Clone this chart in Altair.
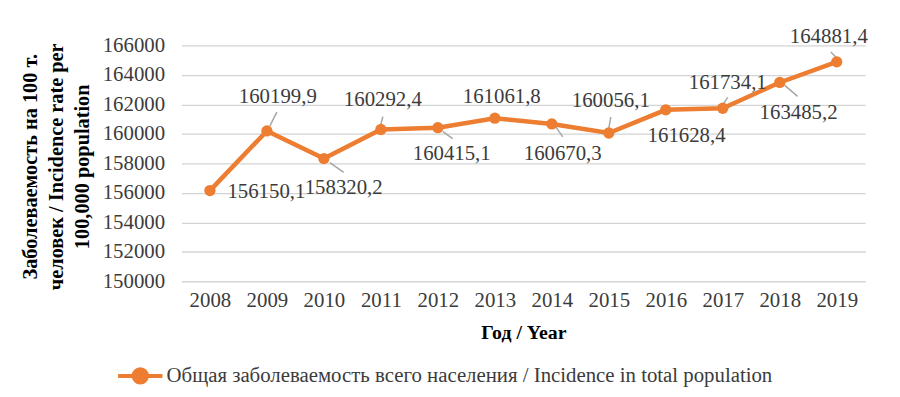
import altair as alt
import pandas as pd

# ---- data ----
years = [2008, 2009, 2010, 2011, 2012, 2013, 2014, 2015, 2016, 2017, 2018, 2019]
values = [156150.1, 160199.9, 158320.2, 160292.4, 160415.1, 161061.8,
          160670.3, 160056.1, 161628.4, 161734.1, 163485.2, 164881.4]
y_ticks = [150000, 152000, 154000, 156000, 158000, 160000, 162000, 164000, 166000]
series_name = "Общая заболеваемость всего населения / Incidence in total population"
y_title = ["Заболеваемость на 100 т.", "человек / Incidence rate per", "100,000 population"]
x_title = "Год / Year"

# ---- layout (pixel offsets of data labels and leader lines) ----
label_dx = [57, 11, 20, 2, 14, 7, 11, 2, 21, 5, 19, -8]
label_dy = [1, -34, 30, -30, 27, -21, 30, -32, 26, -25, 31, -25]
leaders = {2009: (10, -19, 3, -5), 2010: (6, 4, 20, 14), 2011: (2, -13, 0, -5),
           2012: (5, 4, 15, 11), 2014: (4, 3, 11, 13), 2015: (2, -16, 0, -5),
           2017: (5, -11, 1, -5), 2018: (5, 3, 18, 14), 2019: (-6, -10, -1, -5)}

W, H = 690, 238
XMIN, XMAX = 2007.5, 2019.5
YMIN, YMAX = 150000, 166000
ux = (XMAX - XMIN) / W      # data units per px
uy = (YMAX - YMIN) / H

ORANGE = "#ED7D31"
FONT = "Liberation Serif"
TXT = "#3b3b3b"

df = pd.DataFrame({"year": years, "value": values, "series": series_name})
df["label"] = [f"{v:.1f}".replace(".", ",") for v in values]
df["lx"] = [y + dx * ux for y, dx in zip(years, label_dx)]
df["ly"] = [v - dy * uy for v, dy in zip(values, label_dy)]

lead_rows = []
for y, v in zip(years, values):
    if y in leaders:
        a, b, c, d = leaders[y]
        lead_rows.append({"x1": y + a * ux, "y1": v - b * uy, "x2": y + c * ux, "y2": v - d * uy})
ldf = pd.DataFrame(lead_rows)

xs = alt.Scale(domain=[XMIN, XMAX], nice=False, zero=False)
ys = alt.Scale(domain=[YMIN, YMAX], nice=False, zero=False)

x_axis = alt.Axis(values=years, tickCount=12, format="d", grid=False, domain=False, ticks=False,
                  labelFont=FONT, labelFontSize=21, labelColor=TXT, labelPadding=8,
                  labelOverlap=False,
                  title=x_title, titleFont=FONT, titleFontSize=20, titleFontWeight="bold",
                  titleColor="#000000", titleY=42, titleBaseline="top")
y_axis = alt.Axis(values=y_ticks, tickCount=9, format="d", grid=True, gridColor="#d4d4d4",
                  gridWidth=1.3, domain=False, ticks=False, labelFont=FONT, labelFontSize=21,
                  labelColor=TXT, labelPadding=17, labelOverlap=False,
                  title=y_title, titleFont=FONT, titleFontSize=20.5, titleFontWeight="bold",
                  titleColor="#000000", titleLineHeight=26, titleX=-142, titleY=122,
                  titleAlign="center", titleBaseline="bottom", titleAngle=-90)

base = alt.Chart(df)

line = base.mark_line(color=ORANGE, strokeWidth=4.5).encode(
    x=alt.X("year:Q", scale=xs, axis=x_axis),
    y=alt.Y("value:Q", scale=ys, axis=y_axis),
)

sym_path = ("M-1,0L-0.3,0M0.3,0L1,0"
            "M-0.3,0A0.3,0.3 0 1,0 0.3,0A0.3,0.3 0 1,0 -0.3,0Z")

points = base.mark_circle(size=130, opacity=1).encode(
    x=alt.X("year:Q", scale=xs),
    y=alt.Y("value:Q", scale=ys),
    color=alt.Color("series:N", scale=alt.Scale(range=[ORANGE]),
                    legend=alt.Legend(orient="none", legendX=-66, legendY=309, title=None,
                                      symbolType=sym_path, symbolSize=2000,
                                      symbolStrokeColor=ORANGE, symbolStrokeWidth=4,
                                      symbolFillColor=ORANGE,
                                      labelFont=FONT, labelFontSize=21, labelColor=TXT,
                                      labelOffset=2, padding=0, labelLimit=800)),
)

leader = alt.Chart(ldf).mark_rule(color="#a6a6a6", strokeWidth=1.5).encode(
    x=alt.X("x1:Q", scale=xs), y=alt.Y("y1:Q", scale=ys),
    x2="x2:Q", y2="y2:Q",
)

labels = base.mark_text(font=FONT, fontSize=21, color=TXT, align="center",
                        baseline="middle").encode(
    x=alt.X("lx:Q", scale=xs), y=alt.Y("ly:Q", scale=ys),
    text="label:N",
)

chart = alt.layer(line, leader, points, labels).properties(
    width=W, height=H,
    autosize=alt.AutoSizeParams(type="none"),
    padding={"left": 175, "top": 36, "right": 27, "bottom": 107},
).configure(background="white").configure_view(stroke=None)

chart.save("out.html", embed_options={"renderer": "svg", "actions": False})
